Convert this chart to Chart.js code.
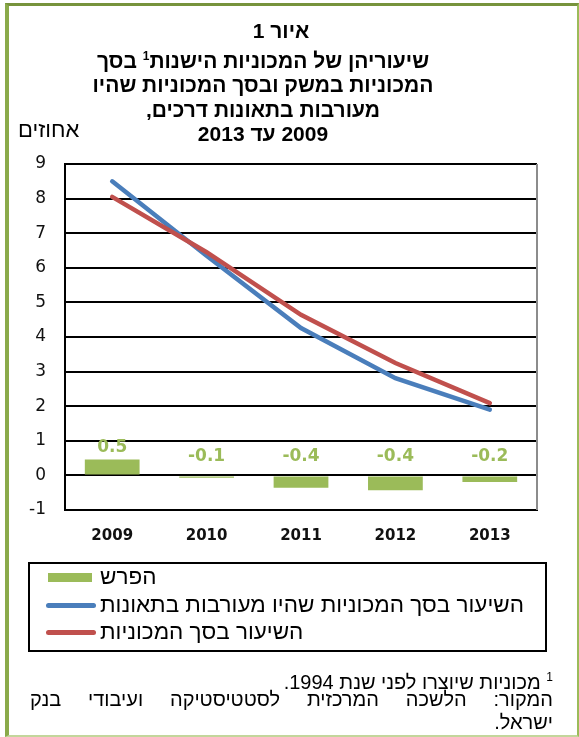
<!DOCTYPE html>
<html lang="he">
<head>
<meta charset="utf-8">
<script src="https://cdn.jsdelivr.net/npm/chart.js@4"></script>
<style>
  body { margin: 0; background: #fff; }
  #wrap { position: relative; width: 579px; height: 737px; overflow: hidden; }
  #frame { position: absolute; left: 5px; top: 3px; width: 568px; height: 729px;
    border-top: 3px solid #77933c; border-left: 4px solid #8aaa4a; border-right: 2px solid #9bbb59;
    border-bottom: 2px solid #c3d69b; }
  canvas { position: absolute; left: 0; top: 0; }
  .t { position: absolute; font-family: "Liberation Sans", "DejaVu Sans", sans-serif; color: #000; }
  #title { left: 0; width: 526px; top: 19px; text-align: center; font-weight: bold; font-size: 21px; line-height: 24.5px; }
  #title sup { font-size: 12px; }
  #unit { left: 18px; top: 117px; font-size: 22px; line-height: 26px; }
  #legend { left: 28px; top: 562px; width: 515px; height: 86px; border: 2px solid #000; }
  .item { position: absolute; left: 16px; height: 28px; display: flex; align-items: center; font-size: 22.5px; white-space: nowrap; }
  .sw { width: 50px; margin-right: 4px; }
  .note { font-size: 20px; line-height: 22px; direction: rtl; }
  #note1 { right: 26px; top: 666px; }
  #note2 { left: 30px; right: 26px; top: 688px; text-align: justify; text-align-last: justify; }
  #note3 { right: 26px; top: 711px; }
</style>
</head>
<body>
<div id="wrap">
  <div id="frame"></div>
  <canvas id="chart" width="579" height="737"></canvas>
  <div id="title" class="t">
    <div dir="ltr" style="position:relative;left:18px">איור 1</div>
    <div dir="rtl">שיעוריהן של המכוניות הישנות<sup>1</sup> בסך</div>
    <div dir="rtl">המכוניות במשק ובסך המכוניות שהיו</div>
    <div dir="rtl">מעורבות בתאונות דרכים,</div>
    <div dir="rtl">2009 עד 2013</div>
  </div>
  <div id="unit" class="t">אחוזים</div>
  <div id="legend" class="t"></div>
  <div id="note1" class="t note"><sup style="font-size:12px">1</sup> מכוניות שיוצרו לפני שנת 1994.</div>
  <div id="note2" class="t note">המקור: הלשכה המרכזית לסטטיסטיקה ועיבודי בנק</div>
  <div id="note3" class="t note">ישראל.</div>
</div>
<script>
const years = ["2009", "2010", "2011", "2012", "2013"];
const diff = [0.46, -0.07, -0.36, -0.43, -0.19];
const accidentRate = [8.5, 6.35, 4.26, 2.81, 1.9];
const totalRate = [8.05, 6.45, 4.64, 3.25, 2.09];
const yTicks = [-1, 0, 1, 2, 3, 4, 5, 6, 7, 8, 9];

const seriesNames = ["הפרש", "השיעור בסך המכוניות שהיו מעורבות בתאונות", "השיעור בסך המכוניות"];
const green = "#9bbb59", blue = "#4a7ebb", red = "#c0504d";

// bar value labels + grey right border
const extras = {
  id: "extras",
  afterDatasetsDraw(chart) {
    const ctx = chart.ctx;
    const area = chart.chartArea;
    ctx.save();
    ctx.strokeStyle = "#8c8c8c";
    ctx.lineWidth = 2;
    ctx.beginPath();
    ctx.moveTo(area.right, area.top);
    ctx.lineTo(area.right, area.bottom);
    ctx.stroke();

    const y0 = chart.scales.y.getPixelForValue(0);
    ctx.fillStyle = green;
    ctx.font = "bold 17px 'DejaVu Sans'";
    ctx.textAlign = "center";
    ctx.textBaseline = "middle";
    chart.getDatasetMeta(0).data.forEach((bar, i) => {
      const v = diff[i];
      const y = v >= 0 ? bar.y - 12 : y0 - 19;
      ctx.fillText(v.toFixed(1), bar.x, y);
    });
    ctx.restore();
  }
};

const chart = new Chart(document.getElementById("chart"), {
  data: {
    labels: years,
    datasets: [
      { type: "bar", label: seriesNames[0], data: diff, backgroundColor: green,
        barPercentage: 0.58, categoryPercentage: 1, order: 3 },
      { type: "line", label: seriesNames[1], data: accidentRate, borderColor: blue,
        borderWidth: 4.5, pointRadius: 0, borderCapStyle: "round", tension: 0, order: 2 },
      { type: "line", label: seriesNames[2], data: totalRate, borderColor: red,
        borderWidth: 4.5, pointRadius: 0, borderCapStyle: "round", tension: 0, order: 1 }
    ]
  },
  options: {
    responsive: false,
    animation: false,
    layout: { padding: { top: 164, right: 42, bottom: 197, left: 0 } },
    plugins: { legend: { display: false }, tooltip: { enabled: false } },
    scales: {
      x: {
        grid: { display: false },
        border: { color: "#000", width: 2 },
        ticks: { color: "#111", padding: 9, font: { family: "DejaVu Sans", size: 15, weight: "bold" } },
        afterFit: s => { s.height = 30; }
      },
      y: {
        min: -1, max: 9,
        afterBuildTicks: s => { s.ticks = yTicks.map(v => ({ value: v })); },
        grid: { color: "#000", lineWidth: 2, drawTicks: false },
        border: { color: "#000", width: 2 },
        ticks: { color: "#111", padding: 19, font: { family: "DejaVu Sans", size: 17 } },
        afterFit: s => { s.width = 65; }
      }
    }
  },
  plugins: [extras]
});

// legend built from the datasets
const legend = document.getElementById("legend");
const tops = [-1, 27, 54];
chart.data.datasets.forEach((ds, i) => {
  const item = document.createElement("div");
  item.className = "item";
  item.style.top = tops[i] + "px";
  const sw = document.createElement("span");
  sw.className = "sw";
  if (ds.type === "bar") {
    sw.style.height = "9px";
    sw.style.width = "44px";
    sw.style.marginLeft = "2px";
    sw.style.marginRight = "8px";
    sw.style.background = ds.backgroundColor;
  } else {
    sw.style.height = "5px";
    sw.style.borderRadius = "3px";
    sw.style.background = ds.borderColor;
  }
  const txt = document.createElement("span");
  txt.dir = "rtl";
  txt.textContent = ds.label;
  item.appendChild(sw);
  item.appendChild(txt);
  legend.appendChild(item);
});
</script>
</body>
</html>
